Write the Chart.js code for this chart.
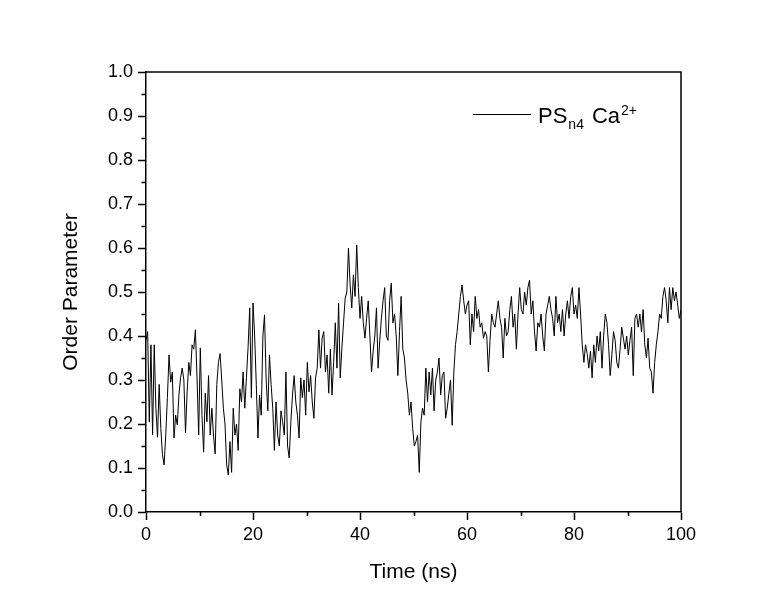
<!DOCTYPE html>
<html>
<head>
<meta charset="utf-8">
<style>
  html, body { margin: 0; padding: 0; background: #fff; }
</style>
</head>
<body>
<canvas id="myChart" width="772" height="604"></canvas>

<script src="https://cdn.jsdelivr.net/npm/chart.js"></script>
<script>

	const orderParam = [
		0.39, 0.41, 0.205, 0.38, 0.175, 0.38, 0.236, 0.17, 0.29, 0.19, 0.13, 0.107, 0.175, 0.26, 0.357, 0.295,
		0.318, 0.168, 0.22, 0.198, 0.266, 0.305, 0.327, 0.30, 0.18, 0.273, 0.34, 0.31, 0.38, 0.37, 0.414, 0.305,
		0.175, 0.373, 0.22, 0.136, 0.27, 0.205, 0.31, 0.175, 0.236, 0.175, 0.132, 0.29, 0.34, 0.36, 0.30, 0.236,
		0.20, 0.107, 0.084, 0.16,
		0.09, 0.236, 0.175, 0.20, 0.14, 0.28, 0.25, 0.318, 0.236, 0.305, 0.373, 0.464, 0.26, 0.475, 0.40, 0.29,
		0.168, 0.266, 0.22, 0.40, 0.448, 0.30, 0.23, 0.357, 0.29, 0.236, 0.14, 0.25, 0.175, 0.15, 0.23, 0.205,
		0.175, 0.318, 0.15, 0.123, 0.205, 0.266, 0.31, 0.25, 0.22, 0.168, 0.305, 0.26, 0.30, 0.22, 0.34, 0.273,
		0.31, 0.25, 0.213, 0.305, 0.327, 0.414, 0.327,
		0.395, 0.41, 0.318, 0.357, 0.27, 0.37, 0.266, 0.34, 0.43, 0.327, 0.475, 0.305, 0.373, 0.43, 0.486, 0.50,
		0.60, 0.516, 0.464, 0.539, 0.49, 0.607, 0.51, 0.44, 0.49, 0.43, 0.395, 0.44, 0.48, 0.40, 0.318, 0.366,
		0.40, 0.464, 0.327, 0.39, 0.44, 0.48, 0.51, 0.40, 0.39, 0.48, 0.52, 0.43, 0.45, 0.40, 0.31, 0.41,
		0.49, 0.37, 0.35, 0.30, 0.27, 0.22, 0.25, 0.19, 0.15,
		0.16, 0.175, 0.09, 0.205, 0.236, 0.22, 0.327, 0.25, 0.318, 0.266, 0.327, 0.23, 0.30, 0.318, 0.35, 0.266,
		0.31, 0.318, 0.213, 0.236, 0.27, 0.30, 0.197, 0.318, 0.38, 0.41, 0.45, 0.49, 0.516, 0.48, 0.45, 0.47,
		0.48, 0.38, 0.45, 0.41, 0.49, 0.44, 0.46, 0.42, 0.43, 0.395, 0.41, 0.40, 0.318, 0.39, 0.45, 0.43,
		0.42, 0.45, 0.48, 0.44, 0.42, 0.35,
		0.44, 0.40, 0.41, 0.46, 0.49, 0.42, 0.45, 0.37, 0.45, 0.51, 0.46, 0.45, 0.50, 0.47, 0.51, 0.527,
		0.45, 0.48, 0.41, 0.366, 0.43, 0.42, 0.45, 0.40, 0.366, 0.45, 0.47, 0.49, 0.46, 0.44, 0.40, 0.49,
		0.43, 0.45, 0.41, 0.46, 0.40, 0.45, 0.48, 0.44, 0.49, 0.51, 0.45, 0.47, 0.44, 0.51, 0.45, 0.38,
		0.34, 0.38, 0.36, 0.327, 0.366, 0.305,
		0.38, 0.34, 0.40, 0.366, 0.41, 0.327, 0.40, 0.45, 0.43, 0.38, 0.31, 0.357, 0.41, 0.39, 0.34, 0.327,
		0.37, 0.42, 0.395, 0.37, 0.40, 0.357, 0.39, 0.42, 0.31, 0.44, 0.45, 0.42, 0.45, 0.41, 0.46, 0.38,
		0.35, 0.395, 0.327, 0.318, 0.27, 0.34, 0.38, 0.41, 0.45, 0.44, 0.49, 0.51, 0.48, 0.43, 0.51, 0.46,
		0.51, 0.48, 0.50, 0.47, 0.44, 0.46
	]
	const tStart = 0
	const tEnd = 100
	const dt = (tEnd - tStart) / (orderParam.length - 1)

	const xMinorTicks = [10, 30, 50, 70, 90]
	const yMinorTicks = [0.05, 0.15, 0.25, 0.35, 0.45, 0.55, 0.65, 0.75, 0.85, 0.95]

	const legendMain = ['PS', 'Ca']
	const legendSub = 'n4'
	const legendSup = '2+'

	const points = orderParam.map((v, i) => ({ x: tStart + i * dt, y: v }))

	const FONT = 'Liberation Sans, Arial, sans-serif'

	const framePlugin = {
		id: 'frame',
		afterDraw(chart) {
			const { ctx, chartArea: a, scales } = chart
			ctx.save()
			ctx.strokeStyle = '#000'
			ctx.lineWidth = 1.5
			// top and right border
			ctx.beginPath()
			ctx.moveTo(a.left, a.top)
			ctx.lineTo(a.right, a.top)
			ctx.lineTo(a.right, a.bottom)
			ctx.stroke()
			// minor ticks
			ctx.beginPath()
			xMinorTicks.forEach(v => {
				const px = Math.round(scales.x.getPixelForValue(v)) + 0.5
				ctx.moveTo(px, a.bottom)
				ctx.lineTo(px, a.bottom + 4)
			})
			yMinorTicks.forEach(v => {
				const py = Math.round(scales.y.getPixelForValue(v)) + 0.5
				ctx.moveTo(a.left, py)
				ctx.lineTo(a.left - 4.5, py)
			})
			ctx.stroke()

			// legend
			const lx = a.right - 208
			const ly = a.top + 42
			ctx.lineWidth = 1
			ctx.beginPath()
			ctx.moveTo(lx, ly + 0.5)
			ctx.lineTo(lx + 58, ly + 0.5)
			ctx.stroke()
			ctx.fillStyle = '#000'
			ctx.textBaseline = 'alphabetic'
			let x = lx + 65
			const base = ly + 9
			ctx.font = '22px ' + FONT
			ctx.fillText(legendMain[0], x, base)
			x += ctx.measureText(legendMain[0]).width + 1
			ctx.font = '14px ' + FONT
			ctx.fillText(legendSub, x, base + 6)
			x += ctx.measureText(legendSub).width + 8
			ctx.font = '22px ' + FONT
			ctx.fillText(legendMain[1], x, base)
			x += ctx.measureText(legendMain[1]).width + 1
			ctx.font = '14px ' + FONT
			ctx.fillText(legendSup, x, base - 8)
			ctx.restore()
		}
	}

	const chart = new Chart(
		document.getElementById('myChart'),
		{
			type: 'line',
			data: {
				datasets: [{
					label: 'PSn4 Ca2+',
					data: points,
					borderColor: '#000',
					borderWidth: 1,
					pointRadius: 0,
					tension: 0,
					fill: false
				}]
			},
			options: {
				responsive: false,
				animation: false,
				layout: { padding: { top: 72, right: 91, left: 0, bottom: 0 } },
				plugins: {
					legend: { display: false },
					tooltip: { enabled: false }
				},
				scales: {
					x: {
						type: 'linear',
						min: 0,
						max: 100,
						afterFit: s => { s.height = 92 },
						ticks: {
							stepSize: 20,
							maxRotation: 0,
							color: '#000',
							padding: 4,
							font: { family: FONT, size: 18 }
						},
						grid: { drawOnChartArea: false, tickLength: 8, tickColor: '#000', tickWidth: 1.5 },
						border: { color: '#000', width: 1.5 },
						title: {
							display: true,
							text: 'Time (ns)',
							color: '#000',
							font: { family: FONT, size: 21 },
							padding: { top: 0, bottom: 19 }
						}
					},
					y: {
						min: 0,
						max: 1,
						afterFit: s => { s.width = 146 },
						ticks: {
							stepSize: 0.1,
							color: '#000',
							padding: 5,
							font: { family: FONT, size: 18 },
							callback: v => Number(v).toFixed(1)
						},
						grid: { drawOnChartArea: false, tickLength: 8, tickColor: '#000', tickWidth: 1.5 },
						border: { color: '#000', width: 1.5 },
						title: {
							display: true,
							text: 'Order Parameter',
							color: '#000',
							font: { family: FONT, size: 21 },
							padding: { top: 59, bottom: 0 }
						}
					}
				}
			},
			plugins: [framePlugin]
		}
	)
</script>
</body>
</html>
